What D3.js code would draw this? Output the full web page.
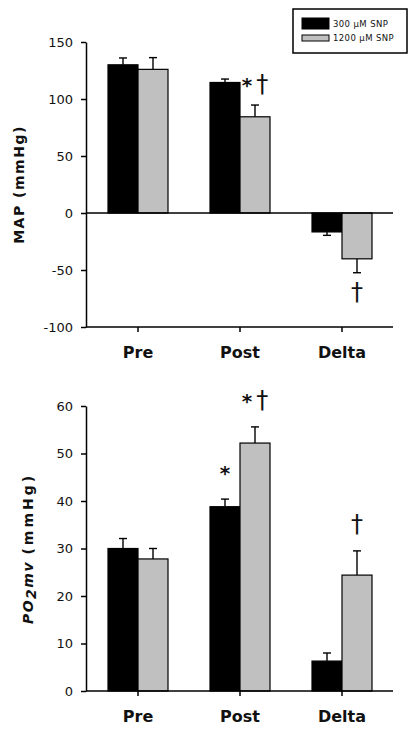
<!DOCTYPE html>
<html>
<head>
<meta charset="utf-8">
<script src="https://cdn.jsdelivr.net/npm/d3@7"></script>
<style>
  body { margin: 0; background: #fff; }
  text { font-family: "DejaVu Sans", sans-serif; fill: #111; }
</style>
</head>
<body>
<svg></svg>
<script>
// categories + series
var categories = ["Pre", "Post", "Delta"];
var seriesNames = ["300 μM SNP", "1200 μM SNP"];
var seriesColors = ["#000000", "#c0c0c0"];

// MAP (mmHg)
var mapLow = [130, 114.5, -16.6];
var mapLowErr = [6, 3, 3];
var mapHigh = [126, 84.4, -40.2];
var mapHighErr = [10.3, 10.3, 12.2];
var mapTicks = [-100, -50, 0, 50, 100, 150];

// PO2mv (mmHg)
var pomvLow = [30, 38.8, 6.3];
var pomvLowErr = [2.1, 1.6, 1.7];
var pomvHigh = [27.8, 52.2, 24.4];
var pomvHighErr = [2.2, 3.4, 5.1];
var pomvTicks = [0, 10, 20, 30, 40, 50, 60];

// significance marks: category, series index, symbol
var mapMarks = [["Post", 1, "*†"], ["Delta", 1, "†"]];
var pomvMarks = [["Post", 0, "*"], ["Post", 1, "*†"], ["Delta", 1, "†"]];

var svgWidth = 409, svgHeight = 734;
var svg = d3.select("svg")
  .attr("width", svgWidth)
  .attr("height", svgHeight);

function drawPanel(opts) {
  var g = svg.append("g");
  var x = d3.scaleBand().domain(categories).range([87, 393]);
  var half = 30;
  var xs = d3.scaleBand().domain([0, 1])
    .range([x.bandwidth() / 2 - half, x.bandwidth() / 2 + half]);
  var y = d3.scaleLinear().domain([opts.ticks[0], opts.ticks[opts.ticks.length - 1]])
    .range([opts.bottom, opts.top]);

  var rows = [];
  categories.forEach(function(c, i) {
    rows.push({cat: c, s: 0, v: opts.low[i], e: opts.lowErr[i]});
    rows.push({cat: c, s: 1, v: opts.high[i], e: opts.highErr[i]});
  });

  // error bars (drawn first so bars cover the inner end)
  var eb = g.selectAll(".err").data(rows).enter().append("g")
    .attr("class", "err")
    .attr("stroke", "#000").attr("stroke-width", 1.4);
  eb.append("line")
    .attr("x1", function(d) { return x(d.cat) + xs(d.s) + xs.bandwidth() / 2; })
    .attr("x2", function(d) { return x(d.cat) + xs(d.s) + xs.bandwidth() / 2; })
    .attr("y1", function(d) { return y(d.v); })
    .attr("y2", function(d) { return y(d.v + (d.v < 0 ? -d.e : d.e)); });
  eb.append("line")
    .attr("x1", function(d) { return x(d.cat) + xs(d.s) + xs.bandwidth() / 2 - 4; })
    .attr("x2", function(d) { return x(d.cat) + xs(d.s) + xs.bandwidth() / 2 + 4; })
    .attr("y1", function(d) { return y(d.v + (d.v < 0 ? -d.e : d.e)); })
    .attr("y2", function(d) { return y(d.v + (d.v < 0 ? -d.e : d.e)); });

  g.selectAll(".bar").data(rows).enter().append("rect")
    .attr("class", "bar")
    .attr("x", function(d) { return x(d.cat) + xs(d.s); })
    .attr("width", xs.bandwidth())
    .attr("y", function(d) { return y(Math.max(0, d.v)); })
    .attr("height", function(d) { return Math.abs(y(d.v) - y(0)); })
    .attr("fill", function(d) { return seriesColors[d.s]; })
    .attr("stroke", "#000")
    .attr("stroke-width", 1.2);

  // zero line (only matters when domain goes negative)
  if (opts.ticks[0] < 0) {
    g.append("line")
      .attr("x1", 86).attr("x2", 393)
      .attr("y1", y(0)).attr("y2", y(0))
      .attr("stroke", "#000").attr("stroke-width", 1.5);
  }

  var yAxis = g.append("g")
    .attr("transform", "translate(86,0)")
    .call(d3.axisLeft(y).tickValues(opts.ticks).tickSize(5).tickSizeOuter(0).tickPadding(8)
      .tickFormat(function(d) { return String(d); }));
  yAxis.selectAll("text").style("font-size", "13px").attr("font-family", null);
  yAxis.selectAll("path, line").attr("stroke", "#000").attr("stroke-width", 1.5);

  var xAxis = g.append("g")
    .attr("transform", "translate(0," + opts.bottom + ")")
    .call(d3.axisBottom(x).tickSize(5).tickSizeOuter(0).tickPadding(15));
  xAxis.select(".domain").attr("d", "M86,0H393");
  xAxis.selectAll("text").style("font-size", "16px").style("font-weight", "bold").attr("font-family", null);
  xAxis.selectAll("path, line").attr("stroke", "#000").attr("stroke-width", 1.5);

  // y title
  var t = g.append("text")
    .attr("transform", "translate(" + opts.titleX + "," + ((opts.top + opts.bottom) / 2) + ") rotate(-90)")
    .attr("text-anchor", "middle")
    .style("font-weight", "bold")
    .style("font-size", "14px")
    .style("letter-spacing", opts.titleSpacing + "px");
  opts.title(t);

  // marks
  opts.marks.forEach(function(m) {
    var i = categories.indexOf(m[0]);
    var v = m[1] === 0 ? opts.low[i] : opts.high[i];
    var e = m[1] === 0 ? opts.lowErr[i] : opts.highErr[i];
    var cx = x(m[0]) + xs(m[1]) + xs.bandwidth() / 2;
    var neg = v < 0;
    var yy = neg ? y(v - e) + 27 : y(v + e) - opts.markGap;
    var txt = g.append("text")
      .attr("x", cx).attr("y", yy)
      .attr("text-anchor", "middle")
      .style("font-weight", "bold");
    m[2].split("").forEach(function(ch) {
      txt.append("tspan")
        .style("font-size", ch === "*" ? "20px" : "24px")
        .style("font-weight", ch === "*" ? "bold" : "normal")
        .attr("dx", ch === "†" && m[2].length > 1 ? 4 : 0)
        .text(ch);
    });
  });
}

drawPanel({
  top: 42, bottom: 327, ticks: mapTicks,
  low: mapLow, lowErr: mapLowErr, high: mapHigh, highErr: mapHighErr,
  marks: mapMarks, markGap: 13, titleX: 24, titleSpacing: 1.5,
  title: function(t) { t.text("MAP (mmHg)"); }
});

drawPanel({
  top: 406, bottom: 691, ticks: pomvTicks,
  low: pomvLow, lowErr: pomvLowErr, high: pomvHigh, highErr: pomvHighErr,
  marks: pomvMarks, markGap: 19, titleX: 33, titleSpacing: 1.5,
  title: function(t) {
    t.append("tspan").style("font-style", "italic").text("PO");
    t.append("tspan").style("font-style", "italic").attr("dy", 3).text("2");
    t.append("tspan").style("font-style", "italic").attr("dy", -3).text("mv ");
    t.append("tspan").style("letter-spacing", "3px").text("(mmHg)");
  }
});

// legend
var legend = svg.append("g");
legend.append("rect")
  .attr("x", 293).attr("y", 9).attr("width", 114).attr("height", 44)
  .attr("fill", "none").attr("stroke", "#000").attr("stroke-width", 1.5);
var swatchY = [18, 35], swatchH = [11, 6];
seriesNames.forEach(function(name, i) {
  legend.append("rect")
    .attr("x", 302).attr("y", swatchY[i]).attr("width", 27).attr("height", swatchH[i])
    .attr("fill", seriesColors[i]).attr("stroke", "#000").attr("stroke-width", 1);
  legend.append("text")
    .attr("x", 333).attr("y", swatchY[i] + swatchH[i] / 2 + 3)
    .style("font-size", "8.5px")
    .style("letter-spacing", "0.4px")
    .text(name);
});
</script>
</body>
</html>
